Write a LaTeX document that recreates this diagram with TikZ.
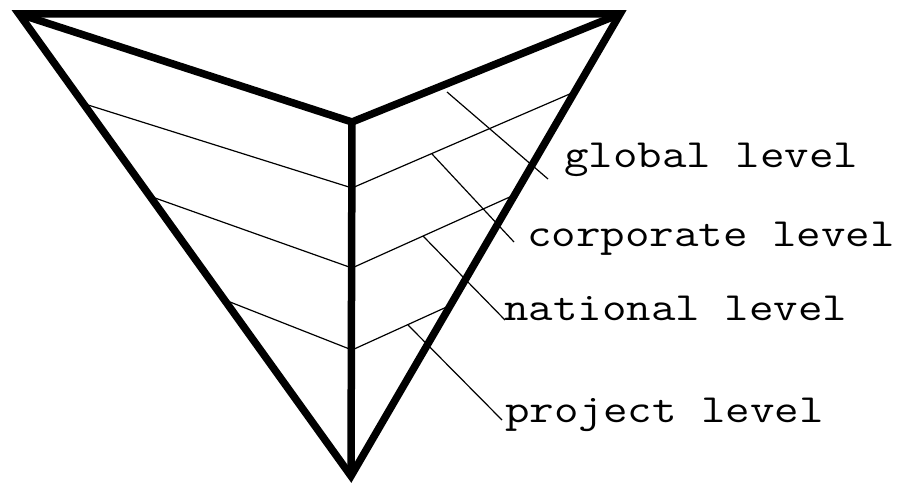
\documentclass[tikz,border=0pt]{standalone}
\usepackage{fontspec}
\tikzset{
  thickedge/.style={line width=7.5pt, line join=miter, miter limit=20},
  thinline/.style={line width=1.2pt},
  lbl/.style={anchor=base west, inner sep=0pt, font=\ttfamily\fontsize{40}{48}\selectfont}
}
\newcommand{\widetxt}[1]{\scalebox{1.19}[1]{#1}}
\begin{document}
\begin{tikzpicture}[x=1pt,y=-1pt]
\useasboundingbox[fill=white] (0,0) rectangle (899,486);
% main vertices
\coordinate (TL) at (19,14);
\coordinate (TR) at (620,14);
\coordinate (B) at (351,476);
\coordinate (C) at (352,122);
% level points on the vertical edge
\coordinate (V1) at (352,188);
\coordinate (V2) at (352,268);
\coordinate (V3) at (352,350);
% left edge points
\coordinate (L1) at (88,105);
\coordinate (L2) at (155,198);
\coordinate (L3) at (230,302);
% right edge points
\coordinate (R1) at (572,93);
\coordinate (R2) at (512,196);
\coordinate (R3) at (451,305);
% leader starts and ends
\coordinate (S1) at (447,92);
\coordinate (E1) at (548,179);
\coordinate (S2) at (432,154);
\coordinate (E2) at (514,242);
\coordinate (S3) at (423,236);
\coordinate (E3) at (505,320);
\coordinate (S4) at (408,325);
\coordinate (E4) at (502,420);
% thin band lines
\draw[thinline] (L1) -- (V1) -- (R1);
\draw[thinline] (L2) -- (V2) -- (R2);
\draw[thinline] (L3) -- (V3) -- (R3);
% leaders
\draw[thinline] (S1) -- (E1);
\draw[thinline] (S2) -- (E2);
\draw[thinline] (S3) -- (E3);
\draw[thinline] (S4) -- (E4);
% thick edges
\draw[thickedge] (TL) -- (TR) -- (B) -- cycle;
\draw[thickedge] (TL) -- (C) -- (TR);
\draw[line width=7.5pt] (C) -- (B);
% labels
\node[lbl] (global) at (564,168) {\widetxt{global level}};
\node[lbl] (corporate) at (527,247) {\widetxt{corporate level}};
\node[lbl] (national) at (504,320) {\widetxt{national level}};
\node[lbl] (project) at (505,422) {\widetxt{project level}};
\end{tikzpicture}
\end{document}
